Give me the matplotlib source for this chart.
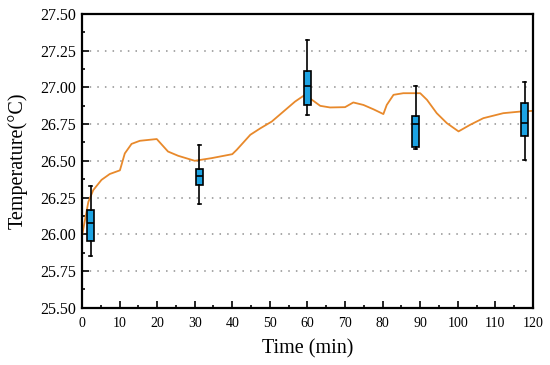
#!/usr/bin/env python3
# Temperature over time: continuous trace plus box plots at sampling times

import matplotlib
matplotlib.use('Agg')
from matplotlib import pyplot as plt
from matplotlib.ticker import MultipleLocator

# Continuous temperature trace
line_time = [0.1, 1.7, 3.0, 5.2, 7.4, 10.1, 11.4, 13.2, 15.4, 19.9,
             22.9, 25.6, 30.0, 34.5, 40.0, 41.2, 44.8, 47.4, 50.5, 53.6,
             56.7, 59.4, 61.2, 63.4, 66.0, 70.0, 72.2, 74.9, 77.6, 80.2,
             81.1, 82.9, 85.5, 90.0, 91.8, 94.4, 97.1, 100.2, 103.3, 106.8,
             112.1, 116.6, 120.0]
line_temp = [26.00, 26.22, 26.30, 26.37, 26.41, 26.435, 26.55, 26.615,
             26.636, 26.648, 26.563, 26.534, 26.50, 26.518, 26.545, 26.575,
             26.677, 26.72, 26.767, 26.835, 26.903, 26.95, 26.915, 26.874,
             26.863, 26.865, 26.897, 26.88, 26.85, 26.818, 26.88, 26.949,
             26.96, 26.96, 26.915, 26.824, 26.756, 26.70, 26.745, 26.79,
             26.824, 26.835, 26.84]

# Box plot statistics at each sampling time
box_time = [2.3, 31.2, 60.0, 88.8, 117.8]
box_low = [25.854, 26.203, 26.81, 26.582, 26.507]
box_q1 = [25.954, 26.337, 26.881, 26.597, 26.668]
box_med = [26.078, 26.396, 27.012, 26.75, 26.754]
box_q3 = [26.162, 26.443, 27.112, 26.808, 26.89]
box_high = [26.325, 26.607, 27.325, 27.012, 27.035]

fig = plt.figure(figsize=(5.5, 3.65), dpi=100)
ax = fig.add_axes([0.149, 0.157, 0.820, 0.805])

plt.rcParams['font.family'] = ['Liberation Serif', 'DejaVu Serif']

ax.plot(line_time, line_temp, color='#E8892B', linewidth=1.3, zorder=2)

stats = []
for i in range(len(box_time)):
    stats.append({'whislo': box_low[i], 'q1': box_q1[i], 'med': box_med[i],
                  'q3': box_q3[i], 'whishi': box_high[i], 'fliers': []})

ax.bxp(stats, positions=box_time, widths=1.8, patch_artist=True,
       showfliers=False, manage_ticks=False,
       boxprops=dict(facecolor='#1CA3E3', edgecolor='black', linewidth=1.2),
       medianprops=dict(color='black', linewidth=1.2),
       whiskerprops=dict(color='black', linewidth=1.2),
       capprops=dict(color='black', linewidth=1.2),
       zorder=3)

ax.set_xlim(0, 120)
ax.set_ylim(25.5, 27.5)
ax.xaxis.set_major_locator(MultipleLocator(10))
ax.xaxis.set_minor_locator(MultipleLocator(5))
ax.yaxis.set_major_locator(MultipleLocator(0.25))
ax.yaxis.set_minor_locator(MultipleLocator(0.125))
ax.yaxis.set_major_formatter(plt.FuncFormatter(lambda v, p: '{:.2f}'.format(v)))

ax.tick_params(which='both', direction='in', top=False, right=False,
               width=1.2, colors='black')
ax.tick_params(which='major', length=5)
ax.tick_params(which='minor', length=2.5)
ax.tick_params(axis='x', labelsize=10, pad=6.5)
ax.tick_params(axis='y', labelsize=11.5, pad=4)
for lab in ax.get_xticklabels() + ax.get_yticklabels():
    lab.set_family('Liberation Serif')

for sp in ax.spines.values():
    sp.set_linewidth(1.6)

ax.grid(axis='y', which='major', linestyle=(0, (1, 4)), color='#909090',
        linewidth=1.1, zorder=0)

ax.set_xlabel('Time (min)', fontsize=14.5, family='Liberation Serif',
              labelpad=7)
ax.set_ylabel('Temperature(°C)', fontsize=14.5, family='Liberation Serif',
              labelpad=9)

fig.savefig('out.png', dpi=100)
plt.close(fig)
